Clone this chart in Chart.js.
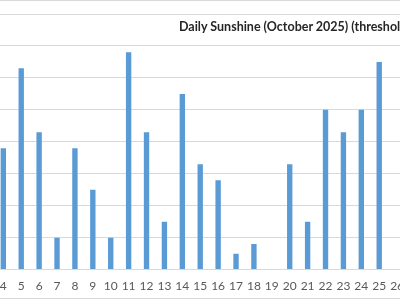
<!DOCTYPE html>
<html>
<head>
<meta charset="utf-8">
<script src="https://cdn.jsdelivr.net/npm/chart.js@4"></script>
<style>
  html, body { margin: 0; padding: 0; width: 400px; height: 300px; overflow: hidden; background: #fff; }
  #frame { position: absolute; left: 0; top: 0; width: 400px; height: 297px; border-top: 1px solid #d9d9d9; border-bottom: 1px solid #d9d9d9; }
  #wrap { position: absolute; left: -9px; top: 0; width: 422px; height: 309px; }
  #title { position: absolute; left: 179px; top: 19px; font: bold 12.5px Lato, sans-serif; color: #262626; white-space: nowrap; }
</style>
</head>
<body>
<div id="frame"></div>
<div id="wrap"><canvas id="barchart"></canvas></div>
<div id="title">Daily Sunshine (October 2025) (threshold)</div>
<script>
const days = ["4", "5", "6", "7", "8", "9", "10", "11", "12", "13", "14", "15",
  "16", "17", "18", "19", "20", "21", "22", "23", "24", "25", "26"];
const sunshineHours = [3.8, 6.3, 4.3, 1.0, 3.8, 2.5, 1.0, 6.8, 4.3, 1.5, 5.5, 3.3,
  2.8, 0.5, 0.8, 0, 3.3, 1.5, 5.0, 4.3, 5.0, 6.5, 0];

const ctx = document.getElementById("barchart").getContext("2d");
const barchart = new Chart(ctx, {
  type: "bar",
  data: {
    labels: days,
    datasets: [
      {
        label: "Sunshine",
        data: sunshineHours,
        backgroundColor: "#5b9bd5",
        borderWidth: 0,
        categoryPercentage: 1,
        barPercentage: 0.3,
      },
    ],
  },
  options: {
    responsive: true,
    maintainAspectRatio: false,
    animation: false,
    layout: { padding: { top: 14, bottom: 7, left: 0, right: 0 } },
    plugins: {
      legend: { display: false },
      title: { display: false },
      tooltip: { enabled: false },
    },
    scales: {
      x: {
        grid: { display: false, drawTicks: false },
        border: { color: "#d9d9d9" },
        ticks: {
          color: "#595959",
          font: { family: "Lato", size: 12 },
          padding: 9,
          maxRotation: 0,
          autoSkip: false,
        },
      },
      y: {
        min: 0,
        max: 8,
        ticks: { display: false, stepSize: 1 },
        grid: { color: "#d9d9d9", drawTicks: false },
        border: { display: false },
      },
    },
  },
});
</script>
</body>
</html>
